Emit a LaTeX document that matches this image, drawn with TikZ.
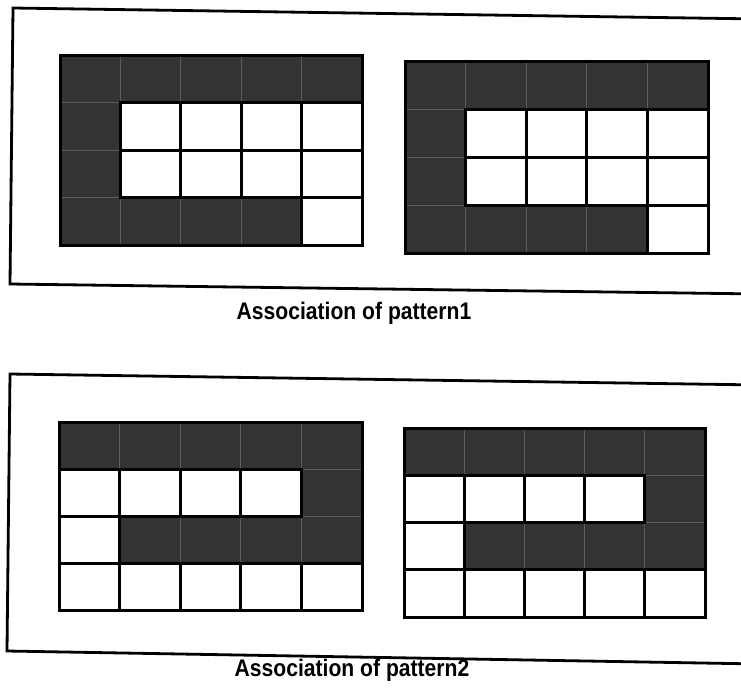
\documentclass[tikz,border=0pt]{standalone}
\usepackage{fontspec}
\setmainfont{Liberation Sans}
\begin{document}
\begin{tikzpicture}[x=1pt,y=-1pt,
  framestyle/.style={line width=2.8pt, line join=miter},
  darkcell/.style={fill=black!80, draw=black!64, line width=1pt},
  whitecell/.style={fill=white, draw=black, line width=3pt},
  gridframe/.style={draw=black, line width=3pt},
  caption/.style={anchor=base, inner sep=0pt, font=\fontsize{24}{27}\selectfont\bfseries}]
\useasboundingbox (0,0) rectangle (741,694);
\clip (0,0) rectangle (741,694);
\fill[white] (0,0) rectangle (741,694);

\newcommand\cellgrid[6]{%
  \pgfmathsetmacro\cw{(#3-#1)/5}%
  \pgfmathsetmacro\ch{(#4-#2)/4}%
  \foreach \c/\r in {#5} {\draw[darkcell] ({#1+\c*\cw},{#2+\r*\ch}) rectangle ++(\cw,\ch);}
  \foreach \c/\r in {#6} {\draw[whitecell] ({#1+\c*\cw},{#2+\r*\ch}) rectangle ++(\cw,\ch);}
  \draw[gridframe] (#1,#2) rectangle (#3,#4);
}

% frames (open to the right)
\draw[framestyle] (760,19) -- (13,8) -- (10,284) -- (760,294);
\draw[framestyle] (760,385) -- (10,374) -- (7,651) -- (760,664);

% pattern 1
\cellgrid{60}{55}{362}{245}%
  {0/0,1/0,2/0,3/0,4/0,0/1,0/2,0/3,1/3,2/3,3/3}%
  {1/1,2/1,3/1,4/1,1/2,2/2,3/2,4/2,4/3}
\cellgrid{405}{61}{708}{253}%
  {0/0,1/0,2/0,3/0,4/0,0/1,0/2,0/3,1/3,2/3,3/3}%
  {1/1,2/1,3/1,4/1,1/2,2/2,3/2,4/2,4/3}

% pattern 2
\cellgrid{59}{422}{362}{610}%
  {0/0,1/0,2/0,3/0,4/0,4/1,1/2,2/2,3/2,4/2}%
  {0/1,1/1,2/1,3/1,0/2,0/3,1/3,2/3,3/3,4/3}
\cellgrid{404}{428}{705}{617}%
  {0/0,1/0,2/0,3/0,4/0,4/1,1/2,2/2,3/2,4/2}%
  {0/1,1/1,2/1,3/1,0/2,0/3,1/3,2/3,3/3,4/3}

\node[caption] (cap1) at (354,319) {\scalebox{0.88}[1]{Association of pattern1}};
\node[caption] (cap2) at (352,676) {\scalebox{0.88}[1]{Association of pattern2}};
\end{tikzpicture}
\end{document}
